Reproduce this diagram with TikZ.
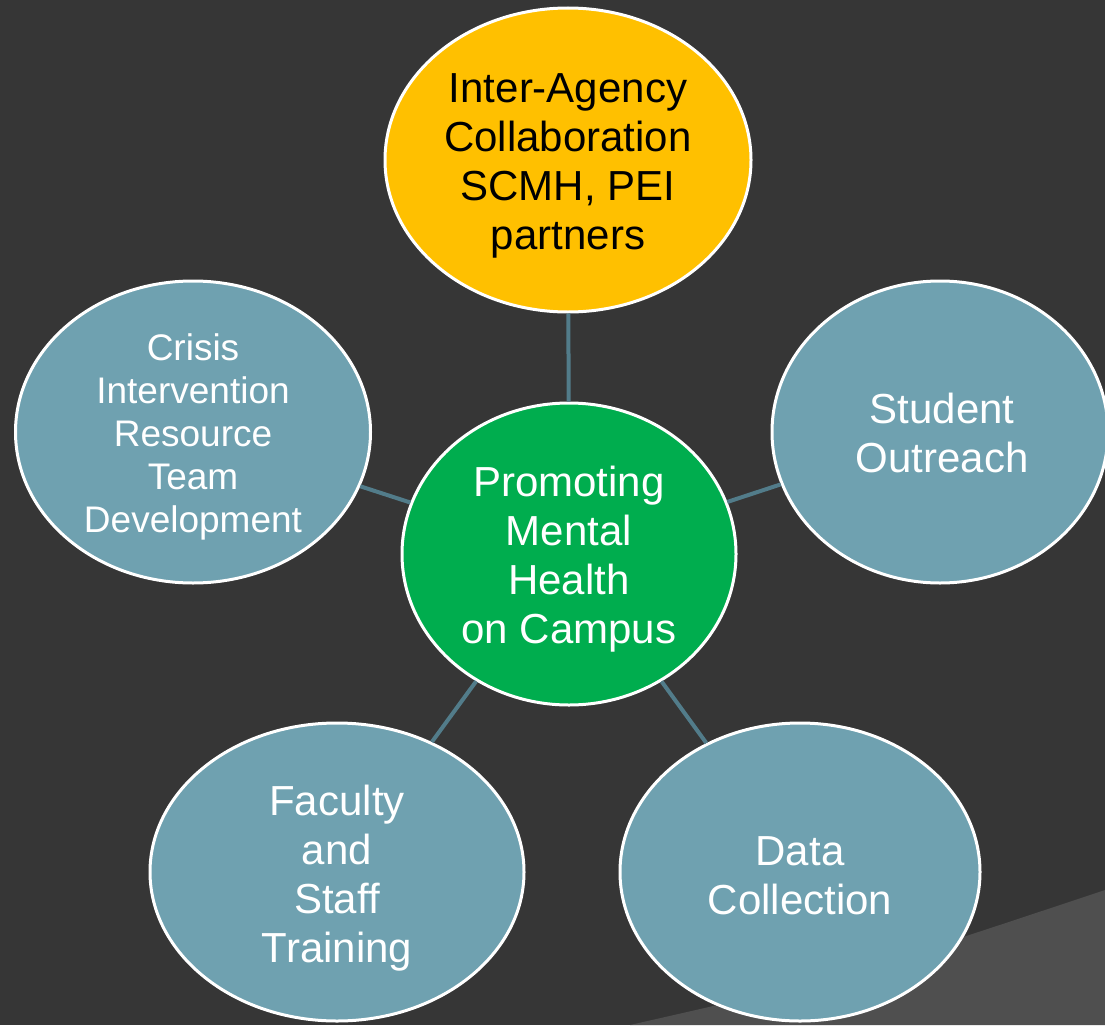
\documentclass[tikz,border=0pt]{standalone}
\usepackage{fontspec}
\setmainfont{Liberation Sans}
\usetikzlibrary{shapes.geometric}
\definecolor{bgdark}{HTML}{363636}
\definecolor{bglight}{HTML}{4F4F4F}
\definecolor{accyellow}{HTML}{FFC000}
\definecolor{accgreen}{HTML}{00AD4E}
\definecolor{accblue}{HTML}{6FA1B0}
\definecolor{linkcol}{HTML}{527C8A}
\begin{document}
\begin{tikzpicture}[x=1pt,y=-1pt,
  bubble/.style={ellipse, draw=white, line width=3pt, inner sep=0pt, fill=accblue},
  label/.style={align=center, inner sep=0pt, text=white, font=\fontsize{42}{49}\selectfont},
  smalltext/.style={font=\fontsize{37}{43}\selectfont},
  link/.style={draw=linkcol, line width=4pt}]
\useasboundingbox (0,0) rectangle (1105,1025);
\fill[bgdark] (0,0) rectangle (1105,1025);
\fill[bglight] (630,1025) .. controls (850,975) .. (1105,890) -- (1105,1025) -- cycle;

\node[bubble, fill=accyellow, minimum width=366pt, minimum height=304pt] (iac) at (568,160) {};
\node[bubble, fill=accgreen, minimum width=334pt, minimum height=302pt] (pmh) at (569,554) {};
\node[bubble, minimum width=355pt, minimum height=302pt] (cir) at (193,432) {};
\node[bubble, minimum width=336pt, minimum height=302pt] (sto) at (940,432) {};
\node[bubble, minimum width=374pt, minimum height=298pt] (fst) at (337,872) {};
\node[bubble, minimum width=360pt, minimum height=298pt] (dac) at (800,872) {};

\node[label, text=black] (iac-t) at (568,166) {Inter-Agency\\Collaboration\\SCMH, PEI\\partners};
\node[label] (pmh-t) at (569,559) {Promoting\\Mental\\Health\\on Campus};
\node[label, smalltext] (cir-t) at (193,437) {Crisis\\Intervention\\Resource\\Team\\Development};
\node[label] (sto-t) at (942,433) {Student\\Outreach};
\node[label] (fst-t) at (337,878) {Faculty\\and\\Staff\\Training};
\node[label] (dac-t) at (800,876) {Data\\Collection};

\draw[link] (iac) -- (pmh);
\draw[link] (cir) -- (pmh);
\draw[link] (sto) -- (pmh);
\draw[link] (fst) -- (pmh);
\draw[link] (dac) -- (pmh);
\end{tikzpicture}
\end{document}
